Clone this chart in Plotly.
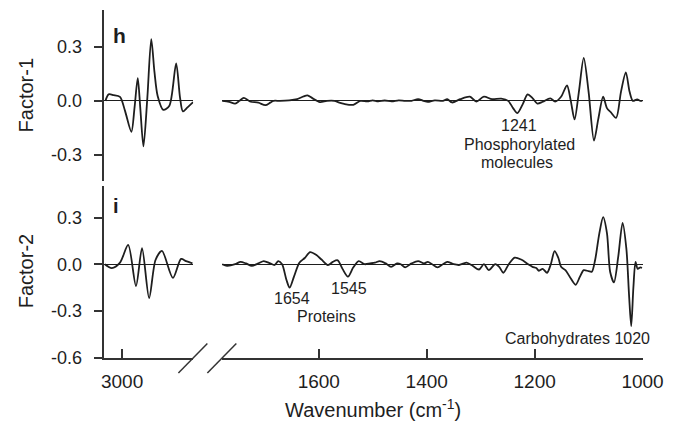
import plotly.graph_objects as go

W, H = 693, 434

# ---- data (wavenumber, factor loading) ----
f1_ch_wn = [3047, 3038, 3024, 3006, 2992, 2974, 2965, 2956, 2949, 2940, 2929, 2918, 2909, 2900,
            2884, 2867, 2848, 2837, 2829, 2816, 2800]
f1_ch_val = [0.0, 0.036, 0.032, 0.022, -0.054, -0.171, -0.036, 0.126, -0.036, -0.252, 0.018, 0.342,
             0.16, 0.027, -0.05, -0.027, 0.207, 0.018, -0.058, -0.036, -0.007]

f1_fp_wn = [1779, 1766, 1755, 1747, 1739, 1731, 1726, 1712, 1699, 1690, 1684, 1672, 1655, 1640, 1628,
            1621, 1612, 1598, 1585, 1571, 1562, 1553, 1536, 1523, 1510, 1500, 1490, 1478, 1465, 1452,
            1440, 1428, 1416, 1406, 1398, 1385, 1370, 1362, 1353, 1338, 1320, 1308, 1294, 1279, 1262,
            1249, 1240, 1232, 1222, 1213, 1204, 1195, 1185, 1171, 1162, 1151, 1140, 1133, 1126, 1118,
            1109, 1100, 1090, 1082, 1073, 1066, 1059, 1049, 1040, 1031, 1024, 1018, 1010, 1004, 1000]
f1_fp_val = [0.0, -0.005, -0.015, 0.0, 0.016, 0.003, -0.005, -0.01, -0.024, -0.01, 0.0, 0.0, 0.003,
             0.01, 0.025, 0.03, 0.015, -0.007, 0.0, 0.0, -0.01, -0.017, -0.022, 0.0, -0.003, 0.003,
             -0.003, 0.002, -0.003, 0.003, 0.0, 0.0, 0.01, 0.0, -0.006, 0.003, 0.0, 0.009, -0.009, 0.009,
             0.023, -0.004, 0.023, 0.009, 0.012, 0.0, -0.04, -0.068, -0.018, 0.036, 0.015, -0.015,
             -0.005, 0.014, -0.004, 0.023, 0.085, 0.0, -0.103, 0.05, 0.238, 0.05, -0.22, -0.1, 0.023,
             -0.04, -0.063, -0.094, 0.05, 0.158, 0.05, 0.0, 0.008, 0.0, 0.0]

f2_ch_wn = [3049, 3029, 3006, 2983, 2961, 2944, 2924, 2906, 2888, 2857, 2834, 2820, 2802]
f2_ch_val = [0.0, -0.025, 0.01, 0.124, -0.14, 0.103, -0.218, 0.027, 0.086, -0.088, 0.034, 0.02, 0.006]

f2_fp_wn = [1779, 1770, 1755, 1745, 1735, 1724, 1712, 1702, 1690, 1682, 1675, 1668, 1660, 1654, 1646,
            1636, 1626, 1616, 1605, 1595, 1583, 1574, 1565, 1556, 1546, 1536, 1526, 1515, 1505, 1496,
            1487, 1476, 1466, 1455, 1448, 1440, 1428, 1416, 1405, 1398, 1390, 1380, 1370, 1362, 1350,
            1340, 1333, 1326, 1315, 1303, 1294, 1285, 1273, 1265, 1258, 1248, 1237, 1225, 1212, 1204,
            1197, 1192, 1185, 1177, 1170, 1163, 1156, 1151, 1143, 1135, 1124, 1116, 1109, 1100, 1094,
            1088, 1080, 1073, 1066, 1060, 1053, 1045, 1037, 1030, 1025, 1021, 1017, 1013, 1009, 1004, 1001]
f2_fp_val = [0.0, -0.01, 0.0, 0.015, 0.005, -0.01, 0.005, 0.02, 0.005, -0.005, 0.02, 0.0, -0.1, -0.151,
             -0.08, 0.01, 0.04, 0.078, 0.06, 0.03, -0.005, 0.015, 0.025, -0.03, -0.08, -0.02, 0.02, 0.0,
             0.005, 0.01, 0.02, 0.005, -0.017, 0.005, 0.0, -0.02, 0.005, 0.02, 0.005, 0.015, 0.0, -0.02,
             0.0, 0.015, 0.0, -0.005, 0.003, 0.01, -0.01, -0.034, 0.0, -0.038, 0.0, -0.02, -0.055, 0.0,
             0.042, 0.03, 0.0, -0.017, -0.025, -0.042, -0.03, -0.055, 0.0, 0.084, 0.04, -0.017, -0.038,
             -0.08, -0.132, -0.08, -0.038, -0.045, -0.048, 0.025, 0.2, 0.302, 0.2, -0.05, -0.117, 0.05,
             0.266, 0.1, -0.2, -0.398, -0.15, 0.015, -0.03, -0.02, -0.025]

# ---- axes settings ----
x_left_range = [3050, 2800]
x_right_range = [1780, 1000]
x_left_ticks = [3000]
x_right_ticks = [1600, 1400, 1200, 1000]
y1_range = [-0.442, 0.504]
y2_range = [-0.6, 0.505]
y1_ticks = [0.3, 0.0, -0.3]
y1_ticktext = ["0.3", "0.0", "-0.3"]
y2_ticks = [0.3, 0.0, -0.3, -0.6]
y2_ticktext = ["0.3", "0.0", "-0.3", "-0.6"]

FONT = "Liberation Sans, Arial, sans-serif"
INK = "#1e1e1e"
AX = "#333333"


def px(x):
    return x / W


def py(y):
    return 1 - y / H


fig = go.Figure()
line = dict(color=INK, width=1.8, shape="spline", smoothing=0.8)
fig.add_trace(go.Scatter(x=f1_ch_wn, y=f1_ch_val, xaxis="x", yaxis="y", mode="lines", line=line))
fig.add_trace(go.Scatter(x=f1_fp_wn, y=f1_fp_val, xaxis="x2", yaxis="y", mode="lines", line=line))
fig.add_trace(go.Scatter(x=f2_ch_wn, y=f2_ch_val, xaxis="x", yaxis="y2", mode="lines", line=line))
fig.add_trace(go.Scatter(x=f2_fp_wn, y=f2_fp_val, xaxis="x2", yaxis="y2", mode="lines", line=line))

xcommon = dict(showline=True, linecolor=AX, linewidth=1.5, ticks="inside", ticklen=9, tickwidth=1.5,
               tickcolor=AX, showgrid=False, zeroline=False, anchor="y2",
               tickfont=dict(family=FONT, size=19, color=INK), ticklabelstandoff=6)
ycommon = dict(showline=True, linecolor=AX, linewidth=1.5, ticks="outside", ticklen=9, tickwidth=1.5,
               tickcolor=AX, showgrid=False, zeroline=True, zerolinecolor=INK, zerolinewidth=1.3,
               anchor="x", tickfont=dict(family=FONT, size=18, color=INK), ticklabelstandoff=8)

fig.update_layout(
    width=W, height=H, margin=dict(l=0, r=0, t=0, b=0),
    paper_bgcolor="white", plot_bgcolor="white", showlegend=False,
    xaxis=dict(domain=[px(105), px(197)], range=x_left_range, tickvals=x_left_ticks, **xcommon),
    xaxis2=dict(domain=[px(226.5), px(662.5)], range=x_right_range, tickvals=x_right_ticks, **xcommon),
    yaxis=dict(domain=[py(185), py(10)], range=y1_range, tickvals=y1_ticks, ticktext=y1_ticktext, **ycommon),
    yaxis2=dict(domain=[py(366), py(190)], range=y2_range, tickvals=y2_ticks, ticktext=y2_ticktext, **ycommon),
)

# axis break marks
for x0 in (181.7, 211.7):
    fig.add_shape(type="line", xref="paper", yref="paper", x0=px(x0), y0=py(381.7),
                  x1=px(x0 + 30), y1=py(351.7), line=dict(color=AX, width=1.5))


def ann(text, x, y, size=16, bold=False, angle=0):
    if bold:
        text = "<b>" + text + "</b>"
    fig.add_annotation(text=text, x=px(x), y=py(y), xref="paper", yref="paper", showarrow=False,
                       xanchor="center", yanchor="middle", textangle=angle,
                       font=dict(family=FONT, size=size, color=INK))


ann("h", 120.5, 36, size=21, bold=True)
ann("i", 117.5, 211, size=20, bold=True)
ann("Factor-1", 23.5, 98, size=20, angle=-90)
ann("Factor-2", 23.5, 278, size=20, angle=-90)
ann("Wavenumber (cm<sup>-1</sup>)", 383, 418, size=20)
ann("1241", 534, 128)
ann("Phosphorylated", 535, 148)
ann("molecules", 532, 166)
ann("1654", 299, 306)
ann("1545", 358, 295)
ann("Proteins", 335, 324)
ann("Carbohydrates 1020", 595, 346)

fig.write_html(
    "out.html",
    config={"responsive": False, "displayModeBar": False},
    post_script="document.body.style.margin='0';document.body.style.padding='0';"
                "document.documentElement.style.overflow='hidden';",
)
